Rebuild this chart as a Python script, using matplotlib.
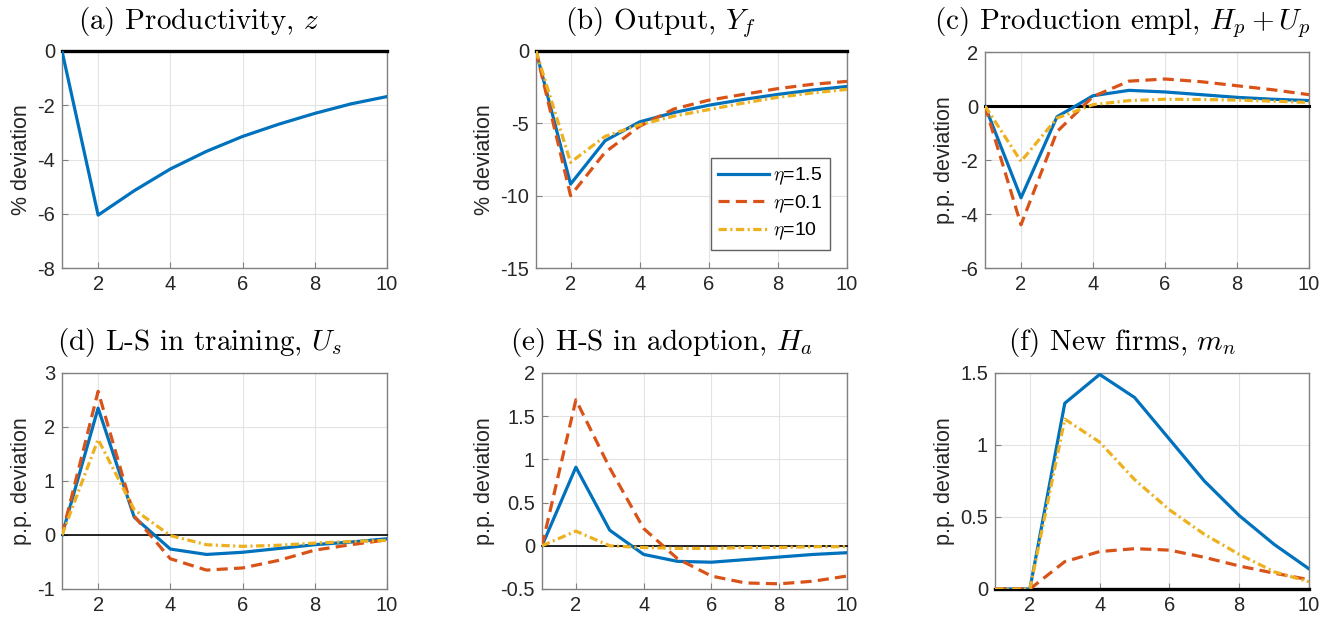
import matplotlib
matplotlib.use("Agg")
import matplotlib.pyplot as plt
import numpy as np

plt.rcParams['font.family'] = ['Liberation Sans', 'DejaVu Sans']
plt.rcParams['mathtext.fontset'] = 'cm'
plt.rcParams['axes.unicode_minus'] = False
plt.rcParams['lines.scale_dashes'] = False

periods = [1, 2, 3, 4, 5, 6, 7, 8, 9, 10]
labels = [r"$\eta$=1.5", r"$\eta$=0.1", r"$\eta$=10"]

# (a) Productivity
z_base = [0, -6.05, -5.15, -4.35, -3.7, -3.15, -2.7, -2.3, -1.95, -1.68]

# (b) Output
yf_base = [0, -9.2, -6.2, -4.9, -4.25, -3.75, -3.35, -3.0, -2.7, -2.45]
yf_low = [0, -10.0, -7.0, -5.2, -4.0, -3.4, -3.0, -2.6, -2.3, -2.1]
yf_high = [0, -7.7, -5.9, -5.1, -4.5, -4.05, -3.6, -3.2, -2.9, -2.65]

# (c) Production employment
hp_base = [0, -3.4, -0.4, 0.38, 0.58, 0.52, 0.42, 0.32, 0.25, 0.2]
hp_low = [0, -4.4, -0.95, 0.35, 0.92, 1.0, 0.9, 0.75, 0.6, 0.42]
hp_high = [0, -2.05, -0.45, 0.05, 0.2, 0.25, 0.24, 0.22, 0.18, 0.13]

# (d) L-S in training
us_base = [0, 2.35, 0.33, -0.26, -0.36, -0.32, -0.25, -0.18, -0.13, -0.07]
us_low = [0, 2.66, 0.35, -0.44, -0.65, -0.61, -0.47, -0.28, -0.18, -0.09]
us_high = [0, 1.77, 0.47, -0.01, -0.18, -0.21, -0.19, -0.15, -0.12, -0.1]

# (e) H-S in adoption
ha_base = [0, 0.91, 0.18, -0.1, -0.18, -0.19, -0.16, -0.13, -0.10, -0.08]
ha_low = [0, 1.69, 0.9, 0.2, -0.15, -0.35, -0.43, -0.44, -0.41, -0.35]
ha_high = [0, 0.17, 0.0, -0.02, -0.03, -0.03, -0.02, -0.02, -0.01, -0.01]

# (f) New firms
mn_base = [0, 0, 1.29, 1.49, 1.33, 1.04, 0.75, 0.51, 0.31, 0.14]
mn_low = [0, 0, 0.19, 0.26, 0.28, 0.27, 0.22, 0.16, 0.11, 0.065]
mn_high = [0, 0, 1.18, 1.02, 0.76, 0.55, 0.38, 0.24, 0.12, 0.05]

titles = [r"(a) Productivity, $z$", r"(b) Output, $Y_f$",
          r"(c) Production empl, $H_p+U_p$", r"(d) L-S in training, $U_s$",
          r"(e) H-S in adoption, $H_a$", r"(f) New firms, $m_n$"]
ylabels = ["% deviation", "% deviation", "p.p. deviation",
           "p.p. deviation", "p.p. deviation", "p.p. deviation"]
yticks = [[-8, -6, -4, -2, 0], [-15, -10, -5, 0], [-6, -4, -2, 0, 2],
          [-1, 0, 1, 2, 3], [-0.5, 0, 0.5, 1, 1.5, 2], [0, 0.5, 1, 1.5]]
yticklabels = [["-8", "-6", "-4", "-2", "0"], ["-15", "-10", "-5", "0"],
               ["-6", "-4", "-2", "0", "2"], ["-1", "0", "1", "2", "3"],
               ["-0.5", "0", "0.5", "1", "1.5", "2"], ["0", "0.5", "1", "1.5"]]
series = [[z_base], [yf_base, yf_low, yf_high], [hp_base, hp_low, hp_high],
          [us_base, us_low, us_high], [ha_base, ha_low, ha_high],
          [mn_base, mn_low, mn_high]]

W, H = 1339, 623
fig = plt.figure(figsize=(W / 100, H / 100), dpi=100)

# pixel boxes (left, right, top, bottom)
boxes = [(62, 387, 51, 268), (536, 847, 51, 268), (985, 1309, 52, 268),
         (62, 387, 373, 589), (542, 847, 373, 589), (995, 1309, 373, 589)]
title_pos = [(199, 29), (660, 29), (1122, 29), (199, 350), (661, 350), (1122, 350)]
zero_lw = [2.4, 2.4, 2.2, 1.2, 1.2, 2.4]

colors = ['#0072BD', '#D95319', '#EDB120']
styles = ['-', (0, (8, 4.5)), (0, (6, 2.5, 1.5, 2.5))]

for i in range(6):
    l, r, t, b = boxes[i]
    ax = fig.add_axes([l / W, 1 - b / H, (r - l) / W, (b - t) / H])
    ax.axhline(0, color='black', lw=zero_lw[i], zorder=2.6, clip_on=False)
    for j, s in enumerate(series[i]):
        ax.plot(periods, s, color=colors[j], linestyle=styles[j], lw=2.3,
                label=labels[j], zorder=3 + j)
    ax.set_xlim(1, 10)
    ax.set_ylim(yticks[i][0], yticks[i][-1])
    ax.set_xticks([2, 4, 6, 8, 10])
    ax.set_yticks(yticks[i])
    ax.set_yticklabels(yticklabels[i])
    ax.grid(True, color='#e3e3e3', lw=0.8, zorder=0)
    ax.set_axisbelow(True)
    for sp in ax.spines.values():
        sp.set_color('#808080')
        sp.set_linewidth(1.0)
    ax.tick_params(direction='in', length=4, width=0.8, color='#808080',
                   labelsize=14.5, labelcolor='#262626', pad=5)
    ax.set_ylabel(ylabels[i], fontsize=15.5, color='#262626', labelpad=4)
    tx, ty = title_pos[i]
    fig.text(tx / W, 1 - ty / H, titles[i], ha='center', va='baseline',
             fontsize=21, family=['cmr10'], color='black')
    if i == 1:
        leg = ax.legend(loc='lower right', bbox_to_anchor=(0.945, 0.083),
                        borderaxespad=0, fontsize=14, handlelength=2.6,
                        handletextpad=0.2, labelspacing=0.3, fancybox=False,
                        edgecolor='#606060', framealpha=1, borderpad=0.4)
        leg.get_frame().set_linewidth(1.0)
        leg.set_zorder(10)

fig.savefig("out.png", dpi=100)
